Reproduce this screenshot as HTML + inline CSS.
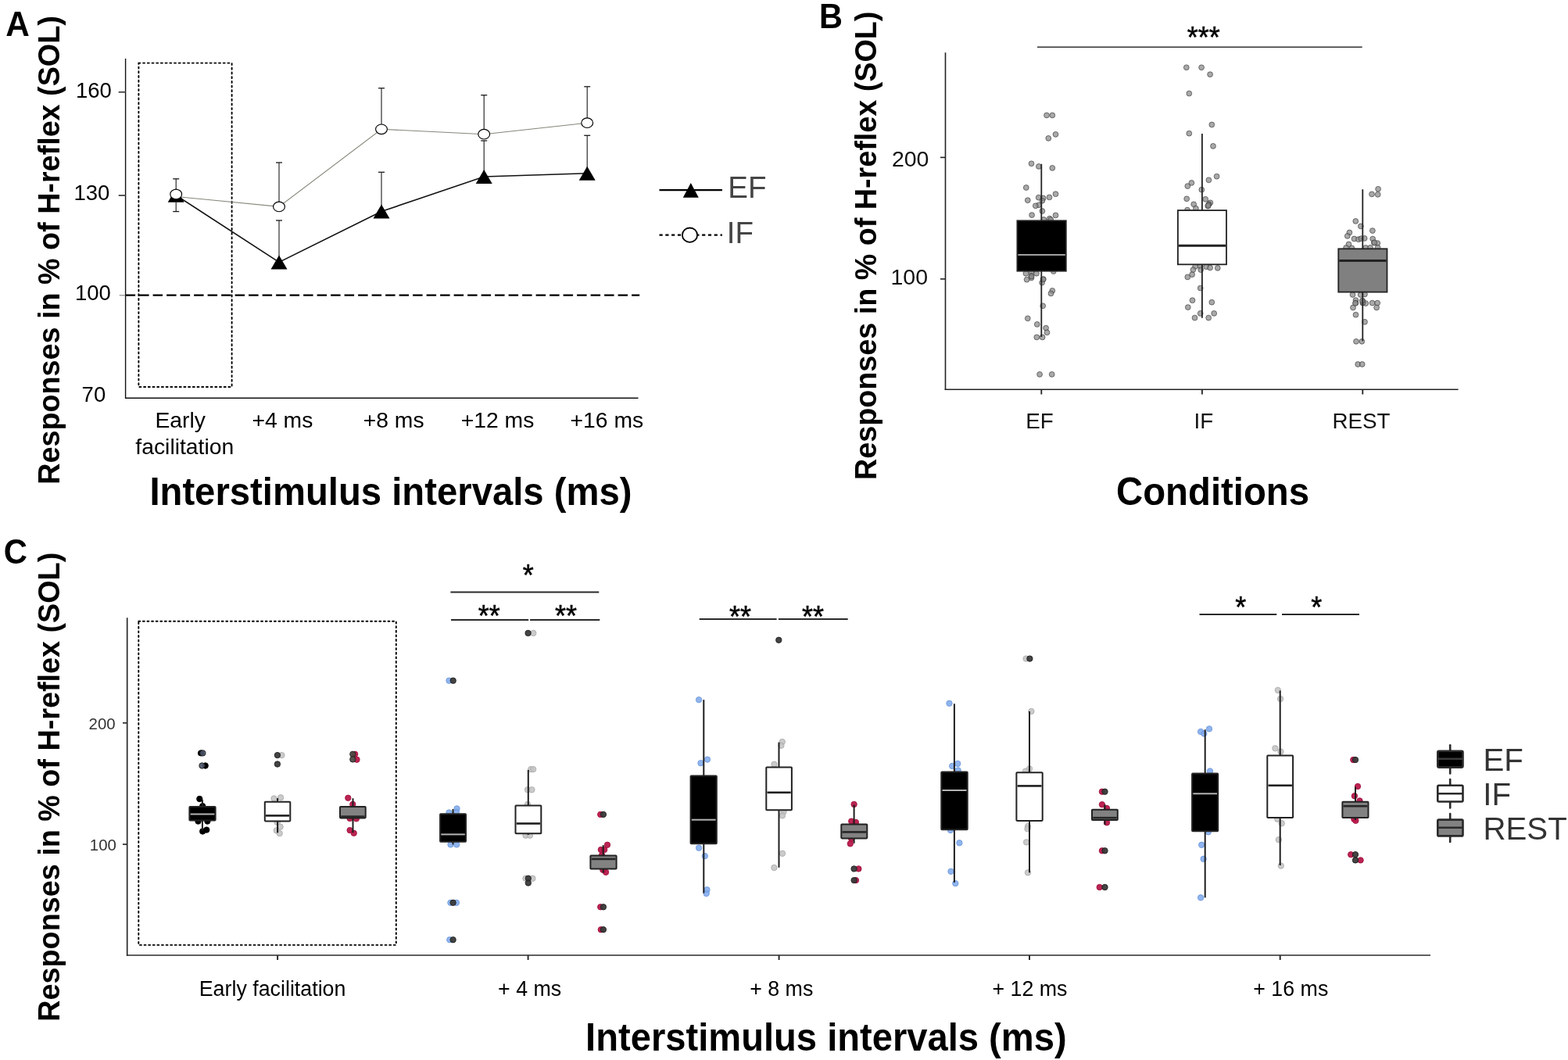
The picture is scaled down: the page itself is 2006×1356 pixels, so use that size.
<!DOCTYPE html>
<html><head><meta charset="utf-8"><style>html,body{margin:0;padding:0;background:#fff;}svg{display:block;}</style></head><body>
<svg width="2006" height="1356" viewBox="0 0 2006 1356" font-family="Liberation Sans, Arial, sans-serif">
<rect width="2006" height="1356" fill="#fff"/>
<text transform="translate(7.14,45.70) scale(0.949,1)" font-size="44.65" font-weight="bold" fill="#000">A</text>
<text transform="translate(75.80,619.75) rotate(-90) scale(0.9801,1)" font-size="38.5" font-weight="bold" fill="#000">Responses in % of H-reflex (SOL)</text>
<line x1="160.60" y1="75.00" x2="160.60" y2="509.90" stroke="#111" stroke-width="1.4"/>
<line x1="160.00" y1="509.20" x2="816.50" y2="509.20" stroke="#111" stroke-width="1.4"/>
<line x1="151.70" y1="117.80" x2="160.60" y2="117.80" stroke="#444" stroke-width="1.8"/>
<line x1="151.70" y1="250.00" x2="160.60" y2="250.00" stroke="#444" stroke-width="1.8"/>
<line x1="152.70" y1="377.80" x2="160.60" y2="377.80" stroke="#888" stroke-width="1.2"/>
<text x="96.95" y="124.60" font-size="27.5" fill="#000">160</text>
<text x="94.45" y="255.80" font-size="27.5" fill="#000">130</text>
<text x="95.95" y="384.40" font-size="27.5" fill="#000">100</text>
<text x="104.60" y="513.80" font-size="27.5" fill="#000">70</text>
<rect x="177.4" y="80.6" width="119.2" height="414.4" fill="none" stroke="#000" stroke-width="1.9" stroke-dasharray="2 3.7" stroke-linecap="round"/>
<line x1="160.60" y1="377.60" x2="818.20" y2="377.60" stroke="#000" stroke-width="2.4" stroke-dasharray="12.5 5"/>
<polyline points="225.2,251.5 357,264.4 488,165.3 619.2,171.7 751.2,157.2" fill="none" stroke="#86857a" stroke-width="1.1"/>
<polyline points="225.2,249.8 357,335.4 488,270.5 619.2,226 751.2,221.7" fill="none" stroke="#111" stroke-width="1.6"/>
<line x1="225.20" y1="248.50" x2="225.20" y2="228.80" stroke="#1a1a1a" stroke-width="1.1"/>
<line x1="221.20" y1="228.80" x2="229.20" y2="228.80" stroke="#1a1a1a" stroke-width="1.3"/>
<line x1="357.00" y1="264.40" x2="357.00" y2="208.00" stroke="#1a1a1a" stroke-width="1.1"/>
<line x1="353.00" y1="208.00" x2="361.00" y2="208.00" stroke="#1a1a1a" stroke-width="1.3"/>
<line x1="488.00" y1="165.30" x2="488.00" y2="112.80" stroke="#1a1a1a" stroke-width="1.1"/>
<line x1="484.00" y1="112.80" x2="492.00" y2="112.80" stroke="#1a1a1a" stroke-width="1.3"/>
<line x1="619.20" y1="171.70" x2="619.20" y2="121.70" stroke="#1a1a1a" stroke-width="1.1"/>
<line x1="615.20" y1="121.70" x2="623.20" y2="121.70" stroke="#1a1a1a" stroke-width="1.3"/>
<line x1="751.20" y1="157.20" x2="751.20" y2="110.80" stroke="#1a1a1a" stroke-width="1.1"/>
<line x1="747.20" y1="110.80" x2="755.20" y2="110.80" stroke="#1a1a1a" stroke-width="1.3"/>
<line x1="357.00" y1="335.40" x2="357.00" y2="282.00" stroke="#1a1a1a" stroke-width="1.1"/>
<line x1="353.00" y1="282.00" x2="361.00" y2="282.00" stroke="#1a1a1a" stroke-width="1.3"/>
<line x1="488.00" y1="270.50" x2="488.00" y2="220.30" stroke="#1a1a1a" stroke-width="1.1"/>
<line x1="484.00" y1="220.30" x2="492.00" y2="220.30" stroke="#1a1a1a" stroke-width="1.3"/>
<line x1="619.20" y1="226.00" x2="619.20" y2="180.00" stroke="#1a1a1a" stroke-width="1.1"/>
<line x1="615.20" y1="180.00" x2="623.20" y2="180.00" stroke="#1a1a1a" stroke-width="1.3"/>
<line x1="751.20" y1="221.70" x2="751.20" y2="173.30" stroke="#1a1a1a" stroke-width="1.1"/>
<line x1="747.20" y1="173.30" x2="755.20" y2="173.30" stroke="#1a1a1a" stroke-width="1.3"/>
<line x1="225.20" y1="258.80" x2="225.20" y2="270.60" stroke="#1a1a1a" stroke-width="1.1"/>
<line x1="221.20" y1="270.60" x2="229.20" y2="270.60" stroke="#1a1a1a" stroke-width="1.3"/>
<polygon points="225.20,240.80 235.70,258.80 214.70,258.80" fill="#000"/>
<polygon points="357.00,326.40 367.50,344.40 346.50,344.40" fill="#000"/>
<polygon points="488.00,261.50 498.50,279.50 477.50,279.50" fill="#000"/>
<polygon points="619.20,217.00 629.70,235.00 608.70,235.00" fill="#000"/>
<polygon points="751.20,212.70 761.70,230.70 740.70,230.70" fill="#000"/>
<ellipse cx="225.2" cy="248.5" rx="7.4" ry="6.3" fill="#fff" stroke="#000" stroke-width="1.15"/>
<ellipse cx="357" cy="264.4" rx="7.4" ry="6.3" fill="#fff" stroke="#000" stroke-width="1.15"/>
<ellipse cx="488" cy="165.3" rx="7.4" ry="6.3" fill="#fff" stroke="#000" stroke-width="1.15"/>
<ellipse cx="619.2" cy="171.7" rx="7.4" ry="6.3" fill="#fff" stroke="#000" stroke-width="1.15"/>
<ellipse cx="751.2" cy="157.2" rx="7.4" ry="6.3" fill="#fff" stroke="#000" stroke-width="1.15"/>
<text x="198.45" y="546.60" font-size="28.3" fill="#000">Early</text>
<text x="173.35" y="581.00" font-size="28.3" fill="#000">facilitation</text>
<text x="322.45" y="546.60" font-size="28.3" fill="#000">+4 ms</text>
<text x="464.75" y="546.60" font-size="28.3" fill="#000">+8 ms</text>
<text x="589.75" y="546.60" font-size="28.3" fill="#000">+12 ms</text>
<text x="729.55" y="546.60" font-size="28.3" fill="#000">+16 ms</text>
<text transform="translate(191.38,645.90) scale(0.9589,1)" font-size="49.3" font-weight="bold" fill="#000">Interstimulus intervals (ms)</text>
<line x1="843.50" y1="243.20" x2="924.00" y2="243.20" stroke="#000" stroke-width="2.2"/>
<polygon points="883.80,234.05 893.80,252.75 873.80,252.75" fill="#000"/>
<text x="931.25" y="253.20" font-size="38.5" fill="#454545">EF</text>
<line x1="843.50" y1="300.70" x2="924.00" y2="300.70" stroke="#000" stroke-width="2.2" stroke-dasharray="4.2 3.6"/>
<ellipse cx="882.5" cy="300.7" rx="9.6" ry="9.2" fill="#fff" stroke="#000" stroke-width="1.8"/>
<text x="929.80" y="310.50" font-size="38.5" fill="#454545">IF</text>
<text transform="translate(1047.90,35.60) scale(0.932,1)" font-size="44.51" font-weight="bold" fill="#000">B</text>
<text transform="translate(1120.90,614.05) rotate(-90) scale(0.9798,1)" font-size="38.5" font-weight="bold" fill="#000">Responses in % of H-reflex (SOL)</text>
<line x1="1209.50" y1="67.20" x2="1209.50" y2="499.00" stroke="#222" stroke-width="1.6"/>
<line x1="1208.70" y1="498.20" x2="1865.60" y2="498.20" stroke="#222" stroke-width="1.6"/>
<line x1="1203.00" y1="201.40" x2="1209.50" y2="201.40" stroke="#222" stroke-width="1.6"/>
<line x1="1203.00" y1="356.90" x2="1209.50" y2="356.90" stroke="#222" stroke-width="1.6"/>
<text x="1140.90" y="212.60" font-size="28.5" fill="#111">200</text>
<text x="1139.50" y="364.00" font-size="28.5" fill="#111">100</text>
<line x1="1332.30" y1="498.20" x2="1332.30" y2="504.50" stroke="#222" stroke-width="1.8"/>
<line x1="1537.90" y1="498.20" x2="1537.90" y2="504.50" stroke="#222" stroke-width="1.8"/>
<line x1="1743.30" y1="498.20" x2="1743.30" y2="504.50" stroke="#222" stroke-width="1.8"/>
<text x="1312.25" y="547.80" font-size="27.8" fill="#111">EF</text>
<text x="1527.60" y="547.80" font-size="27.8" fill="#111">IF</text>
<text x="1704.45" y="547.80" font-size="27.8" fill="#111">REST</text>
<text transform="translate(1428.08,645.70) scale(0.9595,1)" font-size="49.3" font-weight="bold" fill="#000">Conditions</text>
<line x1="1327.00" y1="60.20" x2="1742.70" y2="60.20" stroke="#333" stroke-width="1.6"/>
<g fill="#8c8c8c" fill-opacity="0.75" stroke="#3c3c3c" stroke-opacity="0.75" stroke-width="0.9"><circle cx="1339.0" cy="147.5" r="3.4"/><circle cx="1346.3" cy="147.5" r="3.4"/><circle cx="1350.5" cy="171.9" r="3.4"/><circle cx="1341.3" cy="176.9" r="3.4"/><circle cx="1319.5" cy="209.3" r="3.4"/><circle cx="1328.9" cy="212.9" r="3.4"/><circle cx="1346.3" cy="214.9" r="3.4"/><circle cx="1312.8" cy="240.0" r="3.4"/><circle cx="1350.5" cy="248.2" r="3.4"/><circle cx="1342.5" cy="252.4" r="3.4"/><circle cx="1328.7" cy="252.7" r="3.4"/><circle cx="1334.6" cy="253.5" r="3.4"/><circle cx="1314.8" cy="256.2" r="3.4"/><circle cx="1333.4" cy="256.8" r="3.4"/><circle cx="1328.9" cy="262.3" r="3.4"/><circle cx="1324.8" cy="263.3" r="3.4"/><circle cx="1333.4" cy="270.0" r="3.4"/><circle cx="1320.1" cy="275.1" r="3.4"/><circle cx="1350.5" cy="275.4" r="3.4"/><circle cx="1335.4" cy="281.0" r="3.4"/><circle cx="1342.8" cy="279.6" r="3.4"/><circle cx="1344.3" cy="281.0" r="3.4"/><circle cx="1312.4" cy="349.8" r="3.4"/><circle cx="1319.5" cy="347.7" r="3.4"/><circle cx="1326.0" cy="349.8" r="3.4"/><circle cx="1347.8" cy="347.1" r="3.4"/><circle cx="1319.3" cy="353.0" r="3.4"/><circle cx="1319.5" cy="355.4" r="3.4"/><circle cx="1313.6" cy="357.7" r="3.4"/><circle cx="1334.8" cy="357.1" r="3.4"/><circle cx="1333.1" cy="361.6" r="3.4"/><circle cx="1346.3" cy="371.9" r="3.4"/><circle cx="1344.5" cy="375.4" r="3.4"/><circle cx="1334.2" cy="391.3" r="3.4"/><circle cx="1314.8" cy="407.3" r="3.4"/><circle cx="1326.8" cy="414.9" r="3.4"/><circle cx="1338.1" cy="419.6" r="3.4"/><circle cx="1339.5" cy="425.3" r="3.4"/><circle cx="1326.3" cy="431.4" r="3.4"/><circle cx="1333.6" cy="431.4" r="3.4"/><circle cx="1330.1" cy="478.9" r="3.4"/><circle cx="1345.7" cy="478.9" r="3.4"/></g>
<g fill="#8c8c8c" fill-opacity="0.75" stroke="#3c3c3c" stroke-opacity="0.75" stroke-width="0.9"><circle cx="1517.8" cy="86.3" r="3.4"/><circle cx="1537.1" cy="86.3" r="3.4"/><circle cx="1548.1" cy="95.2" r="3.4"/><circle cx="1521.3" cy="119.6" r="3.4"/><circle cx="1550.3" cy="159.5" r="3.4"/><circle cx="1521.3" cy="170.7" r="3.4"/><circle cx="1552.0" cy="186.9" r="3.4"/><circle cx="1556.6" cy="225.7" r="3.4"/><circle cx="1546.4" cy="230.3" r="3.4"/><circle cx="1524.4" cy="233.9" r="3.4"/><circle cx="1519.3" cy="238.1" r="3.4"/><circle cx="1537.3" cy="242.7" r="3.4"/><circle cx="1518.2" cy="254.3" r="3.4"/><circle cx="1542.2" cy="254.8" r="3.4"/><circle cx="1527.2" cy="261.3" r="3.4"/><circle cx="1548.4" cy="259.3" r="3.4"/><circle cx="1546.6" cy="261.3" r="3.4"/><circle cx="1545.3" cy="263.6" r="3.4"/><circle cx="1529.9" cy="266.7" r="3.4"/><circle cx="1519.0" cy="268.6" r="3.4"/><circle cx="1529.1" cy="340.9" r="3.4"/><circle cx="1535.7" cy="340.7" r="3.4"/><circle cx="1543.2" cy="341.2" r="3.4"/><circle cx="1548.1" cy="342.5" r="3.4"/><circle cx="1557.8" cy="342.9" r="3.4"/><circle cx="1526.4" cy="345.1" r="3.4"/><circle cx="1536.2" cy="345.1" r="3.4"/><circle cx="1525.1" cy="351.2" r="3.4"/><circle cx="1519.3" cy="354.4" r="3.4"/><circle cx="1535.7" cy="368.6" r="3.4"/><circle cx="1525.5" cy="384.2" r="3.4"/><circle cx="1550.3" cy="386.7" r="3.4"/><circle cx="1519.8" cy="393.1" r="3.4"/><circle cx="1535.7" cy="400.9" r="3.4"/><circle cx="1553.2" cy="400.9" r="3.4"/><circle cx="1528.5" cy="406.6" r="3.4"/><circle cx="1546.2" cy="406.6" r="3.4"/></g>
<g fill="#8c8c8c" fill-opacity="0.75" stroke="#3c3c3c" stroke-opacity="0.75" stroke-width="0.9"><circle cx="1763.1" cy="241.8" r="3.4"/><circle cx="1755.0" cy="248.4" r="3.4"/><circle cx="1762.7" cy="248.8" r="3.4"/><circle cx="1734.3" cy="282.9" r="3.4"/><circle cx="1740.9" cy="289.4" r="3.4"/><circle cx="1755.9" cy="295.1" r="3.4"/><circle cx="1726.4" cy="297.5" r="3.4"/><circle cx="1723.8" cy="301.9" r="3.4"/><circle cx="1732.5" cy="305.5" r="3.4"/><circle cx="1738.0" cy="306.2" r="3.4"/><circle cx="1741.3" cy="305.2" r="3.4"/><circle cx="1745.7" cy="304.9" r="3.4"/><circle cx="1756.2" cy="305.6" r="3.4"/><circle cx="1757.9" cy="310.6" r="3.4"/><circle cx="1762.3" cy="311.1" r="3.4"/><circle cx="1725.5" cy="312.5" r="3.4"/><circle cx="1722.1" cy="317.0" r="3.4"/><circle cx="1729.5" cy="317.4" r="3.4"/><circle cx="1747.2" cy="317.0" r="3.4"/><circle cx="1753.1" cy="316.9" r="3.4"/><circle cx="1762.6" cy="316.7" r="3.4"/><circle cx="1730.5" cy="377.0" r="3.4"/><circle cx="1740.7" cy="377.0" r="3.4"/><circle cx="1746.0" cy="376.4" r="3.4"/><circle cx="1734.5" cy="384.1" r="3.4"/><circle cx="1734.5" cy="387.6" r="3.4"/><circle cx="1743.4" cy="385.0" r="3.4"/><circle cx="1743.4" cy="387.6" r="3.4"/><circle cx="1747.3" cy="388.1" r="3.4"/><circle cx="1755.6" cy="387.6" r="3.4"/><circle cx="1762.2" cy="387.6" r="3.4"/><circle cx="1731.0" cy="393.5" r="3.4"/><circle cx="1761.1" cy="393.5" r="3.4"/><circle cx="1734.5" cy="402.7" r="3.4"/><circle cx="1746.0" cy="411.8" r="3.4"/><circle cx="1735.0" cy="436.8" r="3.4"/><circle cx="1742.3" cy="436.8" r="3.4"/><circle cx="1737.2" cy="466.0" r="3.4"/><circle cx="1742.7" cy="466.0" r="3.4"/></g>
<g fill="#8c8c8c" fill-opacity="0.75" stroke="#3c3c3c" stroke-opacity="0.75" stroke-width="0.9"><circle cx="1319.6" cy="353.5" r="3.4"/><circle cx="1334.5" cy="357.4" r="3.4"/><circle cx="1546.2" cy="261.8" r="3.4"/><circle cx="1545.6" cy="263.2" r="3.4"/><circle cx="1758.3" cy="310.3" r="3.4"/><circle cx="1743.6" cy="387.2" r="3.4"/><circle cx="1733.9" cy="387.9" r="3.4"/><circle cx="1742.8" cy="384.6" r="3.4"/></g>
<text transform="translate(1518.75,61.48) scale(1,1.1)" font-size="36" fill="#000" stroke="#000" stroke-width="0.5">***</text>
<line x1="1332.30" y1="209.80" x2="1332.30" y2="282.30" stroke="#222" stroke-width="1.8"/>
<line x1="1332.30" y1="346.70" x2="1332.30" y2="431.00" stroke="#222" stroke-width="1.8"/>
<rect x="1301.40" y="282.30" width="62.40" height="64.40" fill="#000" stroke="#222" stroke-width="1.8"/>
<line x1="1302.40" y1="326.00" x2="1362.80" y2="326.00" stroke="#a0a0a0" stroke-width="2.2"/>
<line x1="1537.90" y1="171.10" x2="1537.90" y2="269.10" stroke="#222" stroke-width="1.8"/>
<line x1="1537.90" y1="338.30" x2="1537.90" y2="406.80" stroke="#222" stroke-width="1.8"/>
<rect x="1506.90" y="269.10" width="62.10" height="69.20" fill="#fff" stroke="#222" stroke-width="1.8"/>
<line x1="1507.90" y1="314.30" x2="1568.00" y2="314.30" stroke="#222" stroke-width="3"/>
<line x1="1743.30" y1="242.20" x2="1743.30" y2="318.30" stroke="#222" stroke-width="1.8"/>
<line x1="1743.30" y1="373.60" x2="1743.30" y2="436.30" stroke="#222" stroke-width="1.8"/>
<rect x="1712.30" y="318.30" width="62.20" height="55.30" fill="#808080" stroke="#222" stroke-width="1.8"/>
<line x1="1713.30" y1="333.50" x2="1773.50" y2="333.50" stroke="#222" stroke-width="3"/>
<text transform="translate(4.63,721.45) scale(0.937,1)" font-size="44.66" font-weight="bold" fill="#000">C</text>
<text transform="translate(76.00,1306.75) rotate(-90) scale(0.9809,1)" font-size="38.5" font-weight="bold" fill="#000">Responses in % of H-reflex (SOL)</text>
<line x1="162.70" y1="790.30" x2="162.70" y2="1222.80" stroke="#2b2b2b" stroke-width="1.7"/>
<line x1="161.90" y1="1222.00" x2="1830.00" y2="1222.00" stroke="#2b2b2b" stroke-width="1.7"/>
<line x1="157.00" y1="924.80" x2="162.70" y2="924.80" stroke="#2b2b2b" stroke-width="1.7"/>
<line x1="157.00" y1="1080.10" x2="162.70" y2="1080.10" stroke="#2b2b2b" stroke-width="1.7"/>
<text x="113.60" y="932.60" font-size="20.4" fill="#333">200</text>
<text x="114.80" y="1088.00" font-size="20.4" fill="#333">100</text>
<line x1="355.10" y1="1222.00" x2="355.10" y2="1228.00" stroke="#2b2b2b" stroke-width="2"/>
<line x1="675.60" y1="1222.00" x2="675.60" y2="1228.00" stroke="#2b2b2b" stroke-width="2"/>
<line x1="996.60" y1="1222.00" x2="996.60" y2="1228.00" stroke="#2b2b2b" stroke-width="2"/>
<line x1="1317.00" y1="1222.00" x2="1317.00" y2="1228.00" stroke="#2b2b2b" stroke-width="2"/>
<line x1="1637.70" y1="1222.00" x2="1637.70" y2="1228.00" stroke="#2b2b2b" stroke-width="2"/>
<text x="254.75" y="1274.00" font-size="26.8" fill="#000">Early facilitation</text>
<text x="637.05" y="1274.00" font-size="26.8" fill="#000">+ 4 ms</text>
<text x="959.15" y="1274.00" font-size="26.8" fill="#000">+ 8 ms</text>
<text x="1269.45" y="1274.00" font-size="26.8" fill="#000">+ 12 ms</text>
<text x="1603.25" y="1274.00" font-size="26.8" fill="#000">+ 16 ms</text>
<text transform="translate(749.09,1344.40) scale(0.9565,1)" font-size="49.3" font-weight="bold" fill="#000">Interstimulus intervals (ms)</text>
<rect x="177.3" y="794.7" width="329.5" height="414.2" fill="none" stroke="#000" stroke-width="1.9" stroke-dasharray="1.9 3.7" stroke-linecap="round"/>
<line x1="576.40" y1="757.50" x2="766.30" y2="757.50" stroke="#2a2a2a" stroke-width="1.8"/>
<line x1="577.00" y1="793.00" x2="676.20" y2="793.00" stroke="#2a2a2a" stroke-width="1.8"/>
<line x1="678.10" y1="793.00" x2="767.30" y2="793.00" stroke="#2a2a2a" stroke-width="1.8"/>
<line x1="894.70" y1="792.00" x2="993.60" y2="792.00" stroke="#2a2a2a" stroke-width="1.8"/>
<line x1="995.90" y1="792.00" x2="1084.70" y2="792.00" stroke="#2a2a2a" stroke-width="1.8"/>
<line x1="1534.50" y1="786.00" x2="1633.30" y2="786.00" stroke="#2a2a2a" stroke-width="1.8"/>
<line x1="1640.00" y1="786.00" x2="1739.00" y2="786.00" stroke="#2a2a2a" stroke-width="1.8"/>
<text transform="translate(668.65,749.48) scale(1,1.1)" font-size="36" fill="#000" stroke="#000" stroke-width="0.5">*</text>
<text transform="translate(611.65,801.27) scale(1,1.1)" font-size="36" fill="#000" stroke="#000" stroke-width="0.5">**</text>
<text transform="translate(710.05,801.27) scale(1,1.1)" font-size="36" fill="#000" stroke="#000" stroke-width="0.5">**</text>
<text transform="translate(933.05,801.98) scale(1,1.1)" font-size="36" fill="#000" stroke="#000" stroke-width="0.5">**</text>
<text transform="translate(1025.95,801.98) scale(1,1.1)" font-size="36" fill="#000" stroke="#000" stroke-width="0.5">**</text>
<text transform="translate(1580.35,790.08) scale(1,1.1)" font-size="36" fill="#000" stroke="#000" stroke-width="0.5">*</text>
<text transform="translate(1677.15,790.08) scale(1,1.1)" font-size="36" fill="#000" stroke="#000" stroke-width="0.5">*</text>
<g fill="#000" fill-opacity="1" stroke="#000" stroke-width="0.9"><circle cx="255.3" cy="1022.0" r="3.7"/><circle cx="259.2" cy="1031.2" r="3.7"/><circle cx="253.5" cy="1050.6" r="3.7"/><circle cx="265.4" cy="1050.6" r="3.7"/><circle cx="259.2" cy="1063.5" r="3.7"/><circle cx="264.3" cy="1061.6" r="3.7"/><circle cx="262.7" cy="979.5" r="3.7"/><circle cx="257.1" cy="963.4" r="3.7"/></g>
<line x1="258.90" y1="1022.90" x2="258.90" y2="1032.10" stroke="#1e1e1e" stroke-width="2"/>
<line x1="258.90" y1="1049.60" x2="258.90" y2="1062.50" stroke="#1e1e1e" stroke-width="2"/>
<rect x="242.40" y="1032.10" width="33.20" height="17.50" fill="#000" stroke="#222" stroke-width="2" rx="0.8"/>
<line x1="243.60" y1="1041.50" x2="274.40" y2="1041.50" stroke="#b4b4b4" stroke-width="2"/>
<g fill="#4a5468" fill-opacity="0.9" stroke="#1a1a1a" stroke-width="0.9"><circle cx="259.4" cy="963.4" r="3.7"/><circle cx="258.5" cy="979.5" r="3.7"/></g>
<g fill="#c2c2c2" fill-opacity="0.85" stroke="#acacac" stroke-width="0.9"><circle cx="350.5" cy="1021.5" r="3.7"/><circle cx="359.1" cy="1020.3" r="3.7"/><circle cx="354.7" cy="1051.9" r="3.7"/><circle cx="358.6" cy="1057.7" r="3.7"/><circle cx="353.8" cy="1062.4" r="3.7"/><circle cx="357.7" cy="1066.1" r="3.7"/><circle cx="360.4" cy="966.1" r="3.7"/></g>
<line x1="355.10" y1="1021.00" x2="355.10" y2="1025.80" stroke="#1e1e1e" stroke-width="2"/>
<line x1="355.10" y1="1050.40" x2="355.10" y2="1065.30" stroke="#1e1e1e" stroke-width="2"/>
<rect x="338.80" y="1025.80" width="32.50" height="24.60" fill="#fff" stroke="#222" stroke-width="2" rx="0.8"/>
<line x1="340.00" y1="1043.40" x2="370.10" y2="1043.40" stroke="#1e1e1e" stroke-width="2.6"/>
<g fill="#3a3a3a" fill-opacity="0.95" stroke="#1e1e1e" stroke-width="0.9"><circle cx="354.9" cy="966.1" r="3.7"/><circle cx="354.9" cy="977.5" r="3.7"/></g>
<g fill="#b8184a" fill-opacity="0.95" stroke="#a0123e" stroke-width="0.9"><circle cx="445.3" cy="1020.8" r="3.7"/><circle cx="451.3" cy="1028.9" r="3.7"/><circle cx="447.6" cy="1046.9" r="3.7"/><circle cx="455.9" cy="1047.3" r="3.7"/><circle cx="447.6" cy="1062.1" r="3.7"/><circle cx="452.7" cy="1065.8" r="3.7"/><circle cx="454.1" cy="964.8" r="3.7"/><circle cx="456.5" cy="971.7" r="3.7"/></g>
<line x1="451.50" y1="1021.20" x2="451.50" y2="1031.90" stroke="#1e1e1e" stroke-width="2"/>
<line x1="451.50" y1="1046.40" x2="451.50" y2="1065.30" stroke="#1e1e1e" stroke-width="2"/>
<rect x="435.00" y="1031.90" width="32.70" height="14.50" fill="#828282" stroke="#222" stroke-width="2" rx="0.8"/>
<line x1="436.20" y1="1044.60" x2="466.50" y2="1044.60" stroke="#262626" stroke-width="2.6"/>
<g fill="#4e4a44" fill-opacity="0.95" stroke="#222" stroke-width="0.9"><circle cx="451.3" cy="964.8" r="3.7"/><circle cx="451.3" cy="971.4" r="3.7"/></g>
<g fill="#7da8ea" fill-opacity="0.85" stroke="#6e98dc" stroke-width="0.9"><circle cx="584.5" cy="1034.4" r="3.7"/><circle cx="583.9" cy="1038.9" r="3.7"/><circle cx="574.5" cy="1039.5" r="3.7"/><circle cx="576.5" cy="1080.4" r="3.7"/><circle cx="584.2" cy="1080.4" r="3.7"/><circle cx="576.4" cy="1154.8" r="3.7"/><circle cx="583.9" cy="1154.8" r="3.7"/><circle cx="575.3" cy="1202.2" r="3.7"/><circle cx="574.5" cy="870.7" r="3.7"/></g>
<line x1="579.50" y1="1035.00" x2="579.50" y2="1041.20" stroke="#1e1e1e" stroke-width="2"/>
<line x1="579.50" y1="1076.70" x2="579.50" y2="1080.40" stroke="#1e1e1e" stroke-width="2"/>
<rect x="563.10" y="1041.20" width="32.90" height="35.50" fill="#000" stroke="#222" stroke-width="2" rx="0.8"/>
<line x1="564.30" y1="1067.40" x2="594.80" y2="1067.40" stroke="#b4b4b4" stroke-width="2"/>
<g fill="#3a3a3a" fill-opacity="0.95" stroke="#1e1e1e" stroke-width="0.9"><circle cx="579.6" cy="1154.8" r="3.7"/><circle cx="579.6" cy="1202.2" r="3.7"/><circle cx="579.7" cy="870.7" r="3.7"/></g>
<g fill="#c2c2c2" fill-opacity="0.85" stroke="#acacac" stroke-width="0.9"><circle cx="679.2" cy="984.1" r="3.7"/><circle cx="682.2" cy="984.1" r="3.7"/><circle cx="675.0" cy="1010.3" r="3.7"/><circle cx="680.4" cy="1010.3" r="3.7"/><circle cx="675.0" cy="1029.1" r="3.7"/><circle cx="672.5" cy="1068.7" r="3.7"/><circle cx="678.0" cy="1068.7" r="3.7"/><circle cx="672.5" cy="1123.7" r="3.7"/><circle cx="681.4" cy="1123.7" r="3.7"/><circle cx="682.3" cy="809.9" r="3.7"/></g>
<line x1="675.80" y1="985.00" x2="675.80" y2="1030.40" stroke="#1e1e1e" stroke-width="2"/>
<line x1="675.80" y1="1066.20" x2="675.80" y2="1068.00" stroke="#1e1e1e" stroke-width="2"/>
<rect x="659.50" y="1030.40" width="32.80" height="35.80" fill="#fff" stroke="#222" stroke-width="2" rx="0.8"/>
<line x1="660.70" y1="1053.50" x2="691.10" y2="1053.50" stroke="#1e1e1e" stroke-width="2.6"/>
<g fill="#3a3a3a" fill-opacity="0.95" stroke="#1e1e1e" stroke-width="0.9"><circle cx="675.8" cy="1123.7" r="3.7"/><circle cx="675.8" cy="1129.5" r="3.7"/><circle cx="675.6" cy="809.9" r="3.7"/></g>
<g fill="#b8184a" fill-opacity="0.95" stroke="#a0123e" stroke-width="0.9"><circle cx="768.2" cy="1041.9" r="3.7"/><circle cx="777.0" cy="1080.8" r="3.7"/><circle cx="768.8" cy="1087.0" r="3.7"/><circle cx="773.2" cy="1087.0" r="3.7"/><circle cx="770.1" cy="1093.9" r="3.7"/><circle cx="775.1" cy="1115.8" r="3.7"/><circle cx="771.3" cy="1112.7" r="3.7"/><circle cx="768.2" cy="1160.3" r="3.7"/><circle cx="768.8" cy="1189.2" r="3.7"/></g>
<line x1="771.70" y1="1081.10" x2="771.70" y2="1094.50" stroke="#1e1e1e" stroke-width="2"/>
<line x1="771.70" y1="1111.50" x2="771.70" y2="1116.50" stroke="#1e1e1e" stroke-width="2"/>
<rect x="755.40" y="1094.50" width="33.20" height="17.00" fill="#828282" stroke="#222" stroke-width="2" rx="0.8"/>
<line x1="756.60" y1="1098.90" x2="787.40" y2="1098.90" stroke="#262626" stroke-width="2.6"/>
<g fill="#3a3a3a" fill-opacity="0.95" stroke="#1e1e1e" stroke-width="0.9"><circle cx="771.9" cy="1041.9" r="3.7"/><circle cx="771.9" cy="1160.3" r="3.7"/><circle cx="771.9" cy="1189.2" r="3.7"/></g>
<g fill="#7da8ea" fill-opacity="0.85" stroke="#6e98dc" stroke-width="0.9"><circle cx="894.1" cy="895.2" r="3.7"/><circle cx="905.0" cy="971.6" r="3.7"/><circle cx="896.5" cy="976.2" r="3.7"/><circle cx="894.1" cy="1084.7" r="3.7"/><circle cx="901.8" cy="1095.1" r="3.7"/><circle cx="904.5" cy="1138.2" r="3.7"/><circle cx="903.7" cy="1143.0" r="3.7"/></g>
<line x1="900.30" y1="895.20" x2="900.30" y2="992.40" stroke="#1e1e1e" stroke-width="2"/>
<line x1="900.30" y1="1079.20" x2="900.30" y2="1142.60" stroke="#1e1e1e" stroke-width="2"/>
<rect x="883.60" y="992.40" width="33.20" height="86.80" fill="#000" stroke="#222" stroke-width="2" rx="0.8"/>
<line x1="884.80" y1="1048.70" x2="915.60" y2="1048.70" stroke="#b4b4b4" stroke-width="2"/>
<g fill="#c2c2c2" fill-opacity="0.85" stroke="#acacac" stroke-width="0.9"><circle cx="1000.8" cy="949.0" r="3.7"/><circle cx="999.4" cy="953.7" r="3.7"/><circle cx="990.5" cy="977.8" r="3.7"/><circle cx="1002.5" cy="1038.5" r="3.7"/><circle cx="1001.0" cy="1043.3" r="3.7"/><circle cx="1001.0" cy="1091.8" r="3.7"/><circle cx="990.4" cy="1110.0" r="3.7"/></g>
<line x1="996.50" y1="949.60" x2="996.50" y2="981.40" stroke="#1e1e1e" stroke-width="2"/>
<line x1="996.50" y1="1036.20" x2="996.50" y2="1109.80" stroke="#1e1e1e" stroke-width="2"/>
<rect x="980.30" y="981.40" width="32.60" height="54.80" fill="#fff" stroke="#222" stroke-width="2" rx="0.8"/>
<line x1="981.50" y1="1013.80" x2="1011.70" y2="1013.80" stroke="#1e1e1e" stroke-width="2.6"/>
<g fill="#3a3a3a" fill-opacity="0.95" stroke="#1e1e1e" stroke-width="0.9"><circle cx="996.3" cy="818.8" r="3.7"/></g>
<g fill="#b8184a" fill-opacity="0.95" stroke="#a0123e" stroke-width="0.9"><circle cx="1092.6" cy="1028.9" r="3.7"/><circle cx="1089.2" cy="1050.6" r="3.7"/><circle cx="1094.9" cy="1051.9" r="3.7"/><circle cx="1089.2" cy="1073.0" r="3.7"/><circle cx="1087.8" cy="1079.3" r="3.7"/><circle cx="1098.4" cy="1111.4" r="3.7"/><circle cx="1095.0" cy="1126.1" r="3.7"/></g>
<line x1="1092.60" y1="1029.50" x2="1092.60" y2="1054.40" stroke="#1e1e1e" stroke-width="2"/>
<line x1="1092.60" y1="1072.40" x2="1092.60" y2="1078.80" stroke="#1e1e1e" stroke-width="2"/>
<rect x="1076.30" y="1054.40" width="33.00" height="18.00" fill="#828282" stroke="#222" stroke-width="2" rx="0.8"/>
<line x1="1077.50" y1="1064.40" x2="1108.10" y2="1064.40" stroke="#262626" stroke-width="2.6"/>
<g fill="#3a3a3a" fill-opacity="0.95" stroke="#1e1e1e" stroke-width="0.9"><circle cx="1092.6" cy="1111.4" r="3.7"/><circle cx="1092.6" cy="1126.1" r="3.7"/></g>
<g fill="#7da8ea" fill-opacity="0.85" stroke="#6e98dc" stroke-width="0.9"><circle cx="1214.5" cy="899.8" r="3.7"/><circle cx="1218.2" cy="980.0" r="3.7"/><circle cx="1225.2" cy="976.9" r="3.7"/><circle cx="1225.7" cy="985.4" r="3.7"/><circle cx="1216.0" cy="1062.0" r="3.7"/><circle cx="1227.4" cy="1078.3" r="3.7"/><circle cx="1216.5" cy="1114.8" r="3.7"/><circle cx="1222.3" cy="1130.1" r="3.7"/></g>
<line x1="1220.90" y1="900.30" x2="1220.90" y2="987.40" stroke="#1e1e1e" stroke-width="2"/>
<line x1="1220.90" y1="1061.30" x2="1220.90" y2="1128.90" stroke="#1e1e1e" stroke-width="2"/>
<rect x="1204.30" y="987.40" width="33.40" height="73.90" fill="#000" stroke="#222" stroke-width="2" rx="0.8"/>
<line x1="1205.50" y1="1011.00" x2="1236.50" y2="1011.00" stroke="#b4b4b4" stroke-width="2"/>
<g fill="#c2c2c2" fill-opacity="0.85" stroke="#acacac" stroke-width="0.9"><circle cx="1312.6" cy="842.6" r="3.7"/><circle cx="1319.4" cy="910.0" r="3.7"/><circle cx="1317.0" cy="983.5" r="3.7"/><circle cx="1312.1" cy="986.6" r="3.7"/><circle cx="1315.0" cy="1057.2" r="3.7"/><circle cx="1314.5" cy="1060.3" r="3.7"/><circle cx="1313.1" cy="1077.4" r="3.7"/><circle cx="1315.0" cy="1116.3" r="3.7"/></g>
<line x1="1317.00" y1="910.00" x2="1317.00" y2="988.30" stroke="#1e1e1e" stroke-width="2"/>
<line x1="1317.00" y1="1049.90" x2="1317.00" y2="1116.30" stroke="#1e1e1e" stroke-width="2"/>
<rect x="1300.40" y="988.30" width="33.30" height="61.60" fill="#fff" stroke="#222" stroke-width="2" rx="0.8"/>
<line x1="1301.60" y1="1005.40" x2="1332.50" y2="1005.40" stroke="#1e1e1e" stroke-width="2.6"/>
<g fill="#3a3a3a" fill-opacity="0.95" stroke="#1e1e1e" stroke-width="0.9"><circle cx="1317.4" cy="842.6" r="3.7"/></g>
<g fill="#b8184a" fill-opacity="0.95" stroke="#a0123e" stroke-width="0.9"><circle cx="1409.9" cy="1012.7" r="3.7"/><circle cx="1409.9" cy="1029.2" r="3.7"/><circle cx="1416.0" cy="1034.0" r="3.7"/><circle cx="1416.0" cy="1052.3" r="3.7"/><circle cx="1409.9" cy="1088.3" r="3.7"/><circle cx="1406.7" cy="1135.0" r="3.7"/></g>
<line x1="1413.50" y1="1029.20" x2="1413.50" y2="1035.80" stroke="#1e1e1e" stroke-width="2"/>
<line x1="1413.50" y1="1049.10" x2="1413.50" y2="1055.00" stroke="#1e1e1e" stroke-width="2"/>
<rect x="1397.00" y="1035.80" width="32.80" height="13.30" fill="#828282" stroke="#222" stroke-width="2" rx="0.8"/>
<line x1="1398.20" y1="1046.20" x2="1428.60" y2="1046.20" stroke="#262626" stroke-width="2.6"/>
<g fill="#3a3a3a" fill-opacity="0.95" stroke="#1e1e1e" stroke-width="0.9"><circle cx="1413.5" cy="1012.7" r="3.7"/><circle cx="1413.5" cy="1088.3" r="3.7"/><circle cx="1413.5" cy="1135.0" r="3.7"/></g>
<g fill="#7da8ea" fill-opacity="0.85" stroke="#6e98dc" stroke-width="0.9"><circle cx="1536.1" cy="936.0" r="3.7"/><circle cx="1540.3" cy="938.5" r="3.7"/><circle cx="1547.0" cy="932.4" r="3.7"/><circle cx="1548.0" cy="986.5" r="3.7"/><circle cx="1545.8" cy="1064.3" r="3.7"/><circle cx="1537.2" cy="1080.8" r="3.7"/><circle cx="1539.6" cy="1098.8" r="3.7"/><circle cx="1536.1" cy="1148.3" r="3.7"/></g>
<line x1="1541.70" y1="933.30" x2="1541.70" y2="989.60" stroke="#1e1e1e" stroke-width="2"/>
<line x1="1541.70" y1="1063.20" x2="1541.70" y2="1148.30" stroke="#1e1e1e" stroke-width="2"/>
<rect x="1525.10" y="989.60" width="33.10" height="73.60" fill="#000" stroke="#222" stroke-width="2" rx="0.8"/>
<line x1="1526.30" y1="1015.30" x2="1557.00" y2="1015.30" stroke="#b4b4b4" stroke-width="2"/>
<g fill="#c2c2c2" fill-opacity="0.85" stroke="#acacac" stroke-width="0.9"><circle cx="1634.8" cy="882.9" r="3.7"/><circle cx="1638.1" cy="894.0" r="3.7"/><circle cx="1631.4" cy="957.3" r="3.7"/><circle cx="1638.5" cy="961.5" r="3.7"/><circle cx="1634.2" cy="1047.8" r="3.7"/><circle cx="1639.8" cy="1053.3" r="3.7"/><circle cx="1635.9" cy="1074.2" r="3.7"/><circle cx="1638.8" cy="1107.6" r="3.7"/></g>
<line x1="1637.70" y1="883.50" x2="1637.70" y2="966.60" stroke="#1e1e1e" stroke-width="2"/>
<line x1="1637.70" y1="1046.10" x2="1637.70" y2="1107.00" stroke="#1e1e1e" stroke-width="2"/>
<rect x="1621.30" y="966.60" width="32.80" height="79.50" fill="#fff" stroke="#222" stroke-width="2" rx="0.8"/>
<line x1="1622.50" y1="1004.80" x2="1652.90" y2="1004.80" stroke="#1e1e1e" stroke-width="2.6"/>
<g fill="#b8184a" fill-opacity="0.95" stroke="#a0123e" stroke-width="0.9"><circle cx="1731.3" cy="972.0" r="3.7"/><circle cx="1737.0" cy="1006.0" r="3.7"/><circle cx="1732.9" cy="1018.2" r="3.7"/><circle cx="1739.5" cy="1024.4" r="3.7"/><circle cx="1732.3" cy="1047.8" r="3.7"/><circle cx="1734.4" cy="1049.8" r="3.7"/><circle cx="1728.2" cy="1093.2" r="3.7"/><circle cx="1740.6" cy="1100.4" r="3.7"/></g>
<line x1="1734.00" y1="1006.50" x2="1734.00" y2="1025.70" stroke="#1e1e1e" stroke-width="2"/>
<line x1="1734.00" y1="1046.10" x2="1734.00" y2="1049.00" stroke="#1e1e1e" stroke-width="2"/>
<rect x="1717.40" y="1025.70" width="33.10" height="20.40" fill="#828282" stroke="#222" stroke-width="2" rx="0.8"/>
<line x1="1718.60" y1="1031.20" x2="1749.30" y2="1031.20" stroke="#262626" stroke-width="2.6"/>
<g fill="#3a3a3a" fill-opacity="0.95" stroke="#1e1e1e" stroke-width="0.9"><circle cx="1734.0" cy="972.0" r="3.7"/><circle cx="1734.0" cy="1093.2" r="3.7"/><circle cx="1734.0" cy="1100.4" r="3.7"/></g>
<line x1="1855.20" y1="953.20" x2="1855.20" y2="982.60" stroke="#2a2a2a" stroke-width="2.6" stroke-linecap="round"/>
<line x1="1855.20" y1="959.80" x2="1855.20" y2="989.50" stroke="#2a2a2a" stroke-width="2.6" stroke-linecap="round"/>
<rect x="1839.3" y="960.80" width="32.2" height="20.80" fill="#000" stroke="#2a2a2a" stroke-width="2.6" rx="1.5"/>
<line x1="1839.30" y1="970.70" x2="1871.50" y2="970.70" stroke="#3a3a3a" stroke-width="2.6"/>
<line x1="1855.20" y1="997.00" x2="1855.20" y2="1026.50" stroke="#2a2a2a" stroke-width="2.6" stroke-linecap="round"/>
<line x1="1855.20" y1="1003.70" x2="1855.20" y2="1033.40" stroke="#2a2a2a" stroke-width="2.6" stroke-linecap="round"/>
<rect x="1839.3" y="1004.70" width="32.2" height="20.80" fill="#fff" stroke="#2a2a2a" stroke-width="2.6" rx="1.5"/>
<line x1="1839.30" y1="1015.20" x2="1871.50" y2="1015.20" stroke="#2a2a2a" stroke-width="2.6"/>
<line x1="1855.20" y1="1041.00" x2="1855.20" y2="1070.40" stroke="#2a2a2a" stroke-width="2.6" stroke-linecap="round"/>
<line x1="1855.20" y1="1047.60" x2="1855.20" y2="1076.90" stroke="#2a2a2a" stroke-width="2.6" stroke-linecap="round"/>
<rect x="1839.3" y="1048.60" width="32.2" height="20.80" fill="#828282" stroke="#2a2a2a" stroke-width="2.6" rx="1.5"/>
<line x1="1839.30" y1="1058.70" x2="1871.50" y2="1058.70" stroke="#2a2a2a" stroke-width="2.6"/>
<text x="1897.55" y="986.10" font-size="40.2" fill="#333">EF</text>
<text x="1897.35" y="1029.80" font-size="40.2" fill="#333">IF</text>
<text x="1897.55" y="1073.50" font-size="40.2" fill="#333">REST</text>
</svg>
</body></html>
